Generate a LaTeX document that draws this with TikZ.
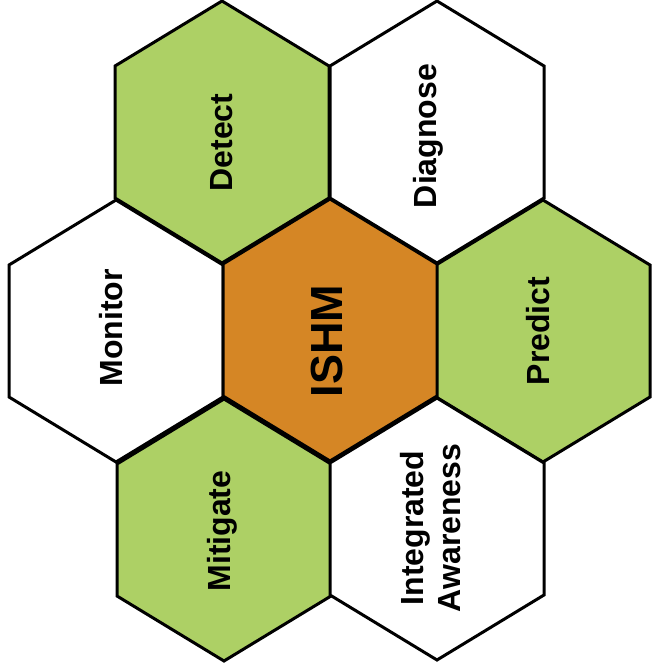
\documentclass[tikz,border=0pt]{standalone}
\usepackage{fontspec}
\setmainfont{Liberation Sans}
\definecolor{hexgreen}{RGB}{173,208,101}
\definecolor{hexorange}{RGB}{213,134,37}
\begin{document}
\begin{tikzpicture}[x=1pt,y=-1pt,
  hex/.pic={\path[draw=black,line width=3pt,fill=#1]
     (0,-131) -- (107,-66) -- (107,66) -- (0,131) -- (-107,66) -- (-107,-66) -- cycle;},
  lbl/.style={rotate=90,font=\fontsize{32}{37}\selectfont\bfseries,align=center,inner sep=0pt},
  biglbl/.style={rotate=90,font=\fontsize{45}{50}\selectfont\bfseries,inner sep=0pt}]
\useasboundingbox (0,0) rectangle (654,671);
\pic at (222,132) {hex=hexgreen};
\pic at (437,132) {hex=white};
\pic at (116,331) {hex=white};
\pic at (543,331) {hex=hexgreen};
\pic at (224,530) {hex=hexgreen};
\pic at (437,529) {hex=white};
\pic at (330,330) {hex=hexorange};
\node[lbl] (detect) at (221.5,142.5) {Detect};
\node[lbl] (diagnose) at (428,136) {Diagnose};
\node[lbl] (monitor) at (111,328) {Monitor};
\node[lbl] (predict) at (538,331) {Predict};
\node[lbl] (mitigate) at (222,531) {Mitigate};
\node[lbl] (aware) at (431,528) {Integrated\\Awareness};
\node[biglbl] (ishm) at (327,341) {ISHM};
\end{tikzpicture}
\end{document}
